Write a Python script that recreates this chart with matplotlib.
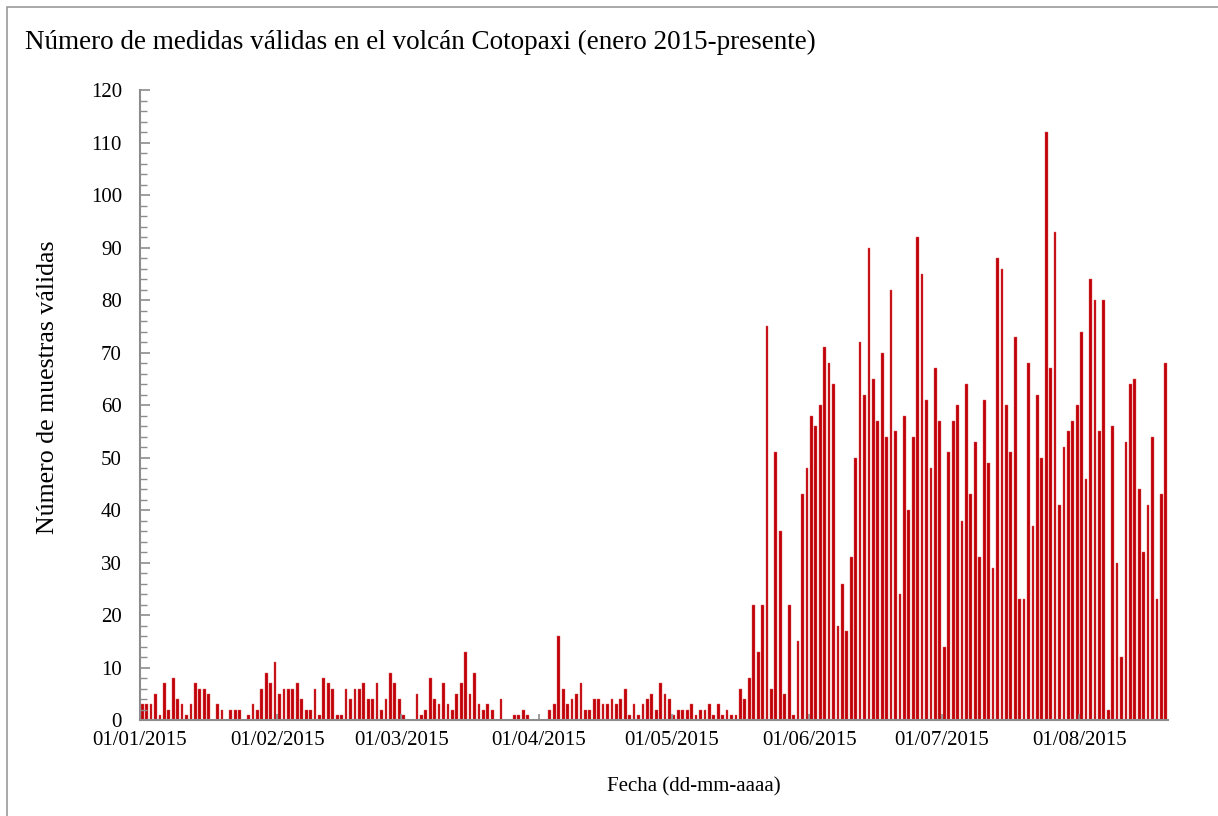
import matplotlib
matplotlib.use("Agg")
import matplotlib.pyplot as plt
import matplotlib.dates as mdates
from matplotlib.ticker import MultipleLocator
from matplotlib.patches import Rectangle
import pandas as pd

plt.rcParams['font.family'] = ['Liberation Serif', 'DejaVu Serif']

# daily counts, 01/01/2015 .. 20/08/2015
valid_counts = [
    3, 3, 3, 5, 1, 7, 2, 8, 4, 3, 1, 3, 7, 6, 6, 5, 0, 3, 2, 0, 2, 2, 2, 0, 1, 3, 2, 6, 9, 7, 11,   # ene
    5, 6, 6, 6, 7, 4, 2, 2, 6, 1, 8, 7, 6, 1, 1, 6, 4, 6, 6, 7, 4, 4, 7, 2, 4, 9, 7, 4,             # feb
    1, 0, 0, 5, 1, 2, 8, 4, 3, 7, 3, 2, 5, 7, 13, 5, 9, 3, 2, 3, 2, 0, 4, 0, 0, 1, 1, 2, 1, 0, 0,   # mar
    0, 0, 2, 3, 16, 6, 3, 4, 5, 7, 2, 2, 4, 4, 3, 3, 4, 3, 4, 6, 1, 3, 1, 3, 4, 5, 2, 7, 5, 4,      # abr
    1, 2, 2, 2, 3, 1, 2, 2, 3, 1, 3, 1, 2, 1, 1, 6, 4, 8, 22, 13, 22, 75, 6, 51, 36, 5, 22, 1, 15,
    43, 48,                                                                                          # may
    58, 56, 60, 71, 68, 64, 18, 26, 17, 31, 50, 72, 62, 90, 65, 57, 70, 54, 82, 55, 24, 58, 40, 54,
    92, 85, 61, 48, 67, 57,                                                                          # jun
    14, 51, 57, 60, 38, 64, 43, 53, 31, 61, 49, 29, 88, 86, 60, 51, 73, 23, 23, 68, 37, 62, 50, 112,
    67, 93, 41, 52, 55, 57, 60,                                                                      # jul
    74, 46, 84, 80, 55, 80, 2, 56, 30, 12, 53, 64, 65, 44, 32, 41, 54, 23, 43, 68,                   # ago
]
dates = pd.date_range("2015-01-01", periods=len(valid_counts), freq="D")
month_ticks = pd.date_range("2015-01-01", "2015-08-01", freq="MS")

title = "Número de medidas válidas en el volcán Cotopaxi (enero 2015-presente)"
ylabel = "Número de muestras válidas"
xlabel = "Fecha (dd-mm-aaaa)"

fig = plt.figure(figsize=(12.18, 8.16), dpi=100)
ax = fig.add_axes([0.1149, 0.1176, 0.8441, 0.7721])

ax.bar(dates + pd.Timedelta(hours=12), valid_counts, width=0.62, color="#C00008",
       edgecolor="#E06060", linewidth=0.3)

ax.set_xlim(dates[0], dates[-1] + pd.Timedelta(days=1))
ax.set_ylim(0, 120)
ax.yaxis.set_major_locator(MultipleLocator(10))
ax.yaxis.set_minor_locator(MultipleLocator(2))
ax.set_xticks(month_ticks)
ax.xaxis.set_major_formatter(mdates.DateFormatter("%d/%m/%Y"))

grey = "#8c8c8c"
for side in ["top", "right"]:
    ax.spines[side].set_visible(False)
for side in ["left", "bottom"]:
    ax.spines[side].set_color(grey)
    ax.spines[side].set_linewidth(1.5)
ax.tick_params(axis="y", which="major", direction="in", length=7, width=1.2, color=grey,
               labelsize=15, pad=13)
ax.tick_params(axis="y", which="minor", direction="in", length=5, width=1.0, color=grey)
ax.tick_params(axis="x", which="major", direction="in", length=4, width=1.2, color=grey,
               labelsize=15, pad=8)

fig.text(25 / 1218, 1 - 42 / 816, title, fontsize=19.5, ha="left", va="center")
fig.text(48 / 1218, 1 - 387 / 816, ylabel, fontsize=18.6, rotation=90, ha="center", va="center")
fig.text(694 / 1218, 1 - 787 / 816, xlabel, fontsize=15, ha="center", va="center")

fig.patches.append(Rectangle((7 / 1218, -0.05), 1.2, 1.05 - 7 / 816, transform=fig.transFigure,
                             fill=False, edgecolor="#999999", linewidth=1.2))

fig.savefig("out.png", dpi=100)
